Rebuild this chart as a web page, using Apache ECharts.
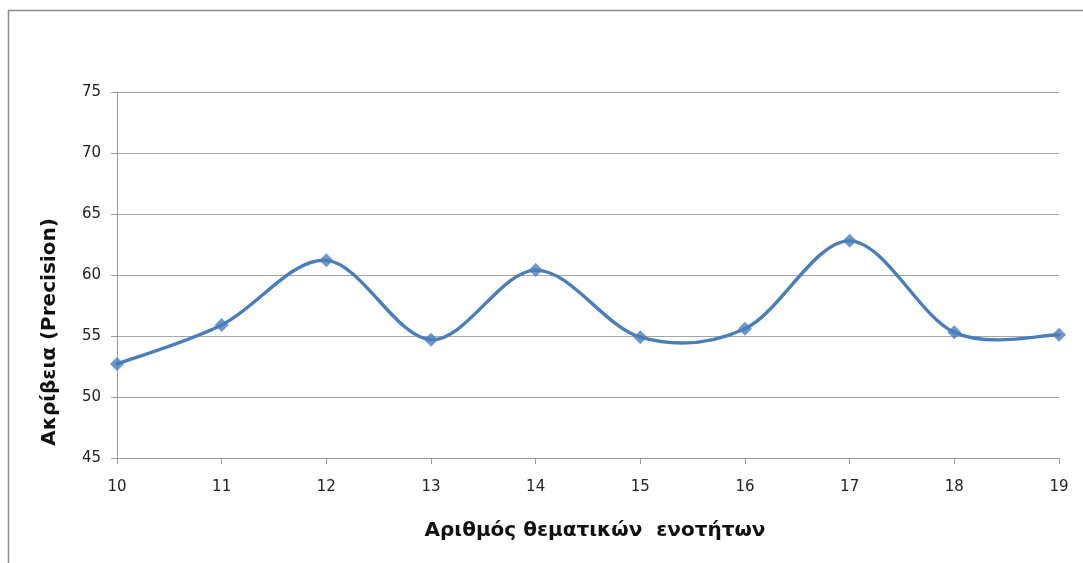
<!DOCTYPE html>
<html>
<head>
<meta charset="utf-8">
<script src="https://cdn.jsdelivr.net/npm/echarts@6/dist/echarts.min.js"></script>
<style>
  html, body { margin: 0; padding: 0; background: #fff; }
  #chart { width: 1083px; height: 563px; }
</style>
</head>
<body>
<div id="chart"></div>
<script>
// Number of topics vs. precision
const topicCounts = [10, 11, 12, 13, 14, 15, 16, 17, 18, 19];
const precision = [52.7, 55.9, 61.2, 54.7, 60.4, 54.9, 55.6, 62.8, 55.3, 55.1];
const yTicks = [45, 50, 55, 60, 65, 70, 75];

const xTitle = 'Αριθμός θεματικών  ενοτήτων';
const yTitle = 'Ακρίβεια (Precision)';

const tickFont = '"DejaVu Sans", "Open Sans", sans-serif';
const titleFont = '"DejaVu Sans", "Open Sans", sans-serif';
const lineColor = '#4a7ebb';

const chart = echarts.init(document.getElementById('chart'), null, { renderer: 'canvas' });

// Catmull-Rom style smoothed segment between point i and i+1,
// with pixel positions obtained from the axes.
function renderSegment(params, api) {
  const i = params.dataIndex;
  const n = topicCounts.length;
  if (i >= n - 1) return null;
  const pt = k => {
    const j = Math.max(0, Math.min(n - 1, k));
    return api.coord([topicCounts[j], precision[j]]);
  };
  const p0 = pt(i - 1), p1 = pt(i), p2 = pt(i + 1), p3 = pt(i + 2);
  return {
    type: 'bezierCurve',
    shape: {
      x1: p1[0], y1: p1[1],
      cpx1: p1[0] + (p2[0] - p0[0]) / 6, cpy1: p1[1] + (p2[1] - p0[1]) / 6,
      cpx2: p2[0] - (p3[0] - p1[0]) / 6, cpy2: p2[1] - (p3[1] - p1[1]) / 6,
      x2: p2[0], y2: p2[1]
    },
    style: { fill: null, stroke: lineColor, lineWidth: 3.4, lineCap: 'round' }
  };
}

chart.setOption({
  animation: false,
  backgroundColor: '#ffffff',
  graphic: [
    {
      type: 'rect',
      shape: { x: 8.5, y: 10.5, width: 1100, height: 600 },
      style: { fill: 'none', stroke: '#8c8c8c', lineWidth: 1.5 },
      silent: true
    },
    {
      type: 'text',
      x: 595, y: 531,
      style: {
        text: xTitle, font: 'bold 20px ' + titleFont, fill: '#111',
        textAlign: 'center', textVerticalAlign: 'middle'
      },
      silent: true
    },
    {
      type: 'text',
      x: 50, y: 332, rotation: Math.PI / 2,
      style: {
        text: yTitle, font: 'bold 20px ' + titleFont, fill: '#111',
        textAlign: 'center', textVerticalAlign: 'middle'
      },
      silent: true
    }
  ],
  grid: { left: 117, right: 24, top: 92, bottom: 105, containLabel: false },
  xAxis: {
    type: 'value',
    min: topicCounts[0],
    max: topicCounts[topicCounts.length - 1],
    interval: 1,
    axisLine: { show: true, lineStyle: { color: '#9a9a9a', width: 1 } },
    axisTick: { show: true, length: 6, lineStyle: { color: '#9a9a9a' } },
    axisLabel: { fontFamily: tickFont, fontSize: 15, color: '#222', margin: 22 },
    splitLine: { show: false }
  },
  yAxis: {
    type: 'value',
    min: yTicks[0],
    max: yTicks[yTicks.length - 1],
    interval: 5,
    axisLine: { show: true, lineStyle: { color: '#9a9a9a', width: 1 } },
    axisTick: { show: true, length: 6, lineStyle: { color: '#9a9a9a' } },
    axisLabel: { fontFamily: tickFont, fontSize: 15, color: '#222', margin: 16 },
    splitLine: { show: true, lineStyle: { color: '#a6a6a6', width: 1 } }
  },
  series: [
    {
      type: 'custom',
      renderItem: renderSegment,
      data: topicCounts.map((x, i) => [x, precision[i]]),
      encode: { x: 0, y: 1 },
      clip: false,
      silent: true,
      z: 3
    },
    {
      type: 'scatter',
      data: topicCounts.map((x, i) => [x, precision[i]]),
      symbol: 'diamond',
      symbolSize: 14,
      itemStyle: { color: lineColor },
      z: 4
    }
  ]
});
</script>
</body>
</html>
